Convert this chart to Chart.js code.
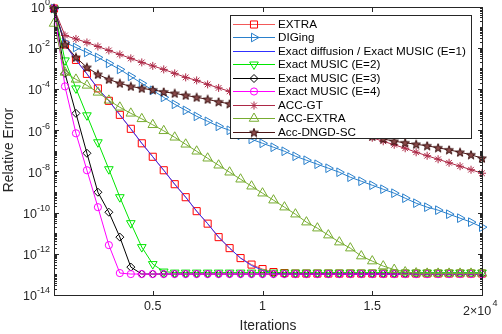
<!DOCTYPE html>
<html>
<head>
<meta charset="utf-8">
<script src="https://cdn.jsdelivr.net/npm/chart.js@4.4.1/dist/chart.umd.min.js"></script>
<style>
html, body { margin: 0; padding: 0; background: #fff; }
#wrap { width: 502px; height: 334px; }
</style>
</head>
<body>
<div id="wrap"><canvas id="errChart" width="502" height="334"></canvas></div>
<script>
// ===========================
// DATA
// ===========================

// Iteration where each marker sits
const iterations = [500, 1000, 1500, 2000, 2500, 3000, 3500, 4000, 4500, 5000,
    5500, 6000, 6500, 7000, 7500, 8000, 8500, 9000, 9500, 10000,
    10500, 11000, 11500, 12000, 12500, 13000, 13500, 14000, 14500, 15000,
    15500, 16000, 16500, 17000, 17500, 18000, 18500, 19000, 19500, 20000];

// Relative error of each method
const extra = [0.80, 1.44e-2, 2.56e-3, 5.37e-4, 1.06e-4, 2.64e-5, 5.53e-6, 1.16e-6, 2.30e-7, 5.1e-8,
    1.13e-8, 2.38e-9, 5.57e-10, 1.17e-10, 2.9e-11, 6.43e-12, 1.88e-12, 6.18e-13, 2.99e-13, 1.81e-13,
    1.30e-13, 1.16e-13, 1.10e-13, 1.10e-13, 1.10e-13, 1.10e-13, 1.10e-13, 1.10e-13, 1.10e-13, 1.10e-13,
    1.10e-13, 1.10e-13, 1.10e-13, 1.10e-13, 1.10e-13, 1.10e-13, 1.10e-13, 1.10e-13, 1.10e-13, 1.10e-13];

const diging = [0.80, 1.80e-2, 1.03e-2, 5.90e-3, 3.38e-3, 1.73e-3, 8.87e-4, 4.06e-4, 1.86e-4, 8.51e-5,
    3.90e-5, 1.79e-5, 9.14e-6, 4.69e-6, 2.68e-6, 1.53e-6, 9.82e-7, 5.62e-7, 3.60e-7, 2.30e-7,
    1.48e-7, 9.44e-8, 5.41e-8, 3.46e-8, 2.21e-8, 1.42e-8, 9.06e-9, 5.19e-9, 3.32e-9, 2.12e-9,
    1.36e-9, 8.71e-10, 4.99e-10, 2.85e-10, 1.83e-10, 1.31e-10, 8.36e-11, 5.36e-11, 3.43e-11, 1.96e-11];

const exactE1 = [0.80, 1.44e-2, 2.56e-3, 5.37e-4, 1.06e-4, 2.64e-5, 5.53e-6, 1.16e-6, 2.30e-7, 5.1e-8,
    1.13e-8, 2.38e-9, 5.57e-10, 1.17e-10, 2.9e-11, 6.43e-12, 1.88e-12, 6.18e-13, 2.7e-13, 1.6e-13,
    1.15e-13, 1.05e-13, 1.04e-13, 1.04e-13, 1.04e-13, 1.04e-13, 1.04e-13, 1.04e-13, 1.04e-13, 1.04e-13,
    1.04e-13, 1.04e-13, 1.04e-13, 1.04e-13, 1.04e-13, 1.04e-13, 1.04e-13, 1.04e-13, 1.04e-13, 1.04e-13];

const exactE2 = [0.80, 2.42e-3, 1.06e-4, 5.24e-6, 2.58e-7, 1.27e-8, 5.57e-10, 3.06e-11, 2.11e-12, 3.16e-13,
    1.37e-13, 1.22e-13, 1.22e-13, 1.22e-13, 1.22e-13, 1.22e-13, 1.22e-13, 1.22e-13, 1.22e-13, 1.22e-13,
    1.22e-13, 1.22e-13, 1.22e-13, 1.22e-13, 1.22e-13, 1.22e-13, 1.22e-13, 1.22e-13, 1.22e-13, 1.22e-13,
    1.22e-13, 1.22e-13, 1.22e-13, 1.22e-13, 1.22e-13, 1.22e-13, 1.22e-13, 1.22e-13, 1.22e-13, 1.22e-13];

const exactE3 = [0.80, 5.68e-4, 6.55e-6, 7.55e-8, 9.73e-10, 1.04e-10, 6.43e-12, 2.26e-13, 1.04e-13, 1.04e-13,
    1.04e-13, 1.04e-13, 1.04e-13, 1.04e-13, 1.04e-13, 1.04e-13, 1.04e-13, 1.04e-13, 1.04e-13, 1.04e-13,
    1.04e-13, 1.04e-13, 1.04e-13, 1.04e-13, 1.04e-13, 1.04e-13, 1.04e-13, 1.04e-13, 1.04e-13, 1.04e-13,
    1.04e-13, 1.04e-13, 1.04e-13, 1.04e-13, 1.04e-13, 1.04e-13, 1.04e-13, 1.04e-13, 1.04e-13, 1.04e-13];

const exactE4 = [0.80, 1.33e-4, 7.03e-7, 1.13e-8, 1.83e-10, 2.63e-12, 1.16e-13, 1.04e-13, 1.04e-13, 1.04e-13,
    1.04e-13, 1.04e-13, 1.04e-13, 1.04e-13, 1.04e-13, 1.04e-13, 1.04e-13, 1.04e-13, 1.04e-13, 1.04e-13,
    1.04e-13, 1.04e-13, 1.04e-13, 1.04e-13, 1.04e-13, 1.04e-13, 1.04e-13, 1.04e-13, 1.04e-13, 1.04e-13,
    1.04e-13, 1.04e-13, 1.04e-13, 1.04e-13, 1.04e-13, 1.04e-13, 1.04e-13, 1.04e-13, 1.04e-13, 1.04e-13];

const accGT = [0.80, 3.94e-2, 2.66e-2, 1.80e-2, 1.15e-2, 7.38e-3, 4.72e-3, 3.03e-3, 1.94e-3, 1.31e-3,
    8.87e-4, 5.68e-4, 3.63e-4, 2.60e-4, 1.66e-4, 1.12e-4, 7.62e-5, 5.15e-5, 3.49e-5, 2.36e-5,
    1.60e-5, 1.08e-5, 7.31e-6, 4.69e-6, 3.17e-6, 2.14e-6, 1.37e-6, 9.29e-7, 6.28e-7, 4.26e-7,
    2.88e-7, 1.95e-7, 1.32e-7, 8.43e-8, 5.71e-8, 3.86e-8, 2.61e-8, 1.77e-8, 1.20e-8, 8.11e-9];

const accExtra = [0.150, 6.34e-4, 2.90e-4, 1.49e-4, 6.81e-5, 2.79e-5, 1.28e-5, 6.55e-6, 3.54e-6, 1.82e-6,
    9.29e-7, 4.50e-7, 2.06e-7, 9.44e-8, 4.33e-8, 1.98e-8, 9.06e-9, 4.15e-9, 1.90e-9, 8.71e-10,
    3.99e-10, 1.83e-10, 8.36e-11, 3.43e-11, 1.75e-11, 8.04e-12, 3.68e-12, 1.88e-12, 7.73e-13, 4.42e-13,
    2.53e-13, 1.71e-13, 1.30e-13, 1.16e-13, 1.12e-13, 1.12e-13, 1.12e-13, 1.12e-13, 1.12e-13, 1.12e-13];

const accDngd = [0.80, 1.44e-2, 3.38e-3, 1.11e-3, 5.07e-4, 2.90e-4, 1.86e-4, 1.33e-4, 1.06e-4, 9.0e-5,
    7.19e-5, 6.10e-5, 4.88e-5, 3.90e-5, 3.12e-5, 2.36e-5, 1.89e-5, 1.43e-5, 1.08e-5, 8.18e-6,
    6.19e-6, 4.69e-6, 3.54e-6, 2.68e-6, 2.03e-6, 1.53e-6, 1.16e-6, 8.79e-7, 6.65e-7, 5.04e-7,
    3.80e-7, 2.88e-7, 2.44e-7, 2.06e-7, 1.74e-7, 1.39e-7, 1.11e-7, 8.43e-8, 6.38e-8, 4.33e-8];

// Axis ticks
const xTicks = [5000, 10000, 15000, 20000];
const xTickLabels = ["0.5", "1", "1.5"];
const yExponents = [0, -2, -4, -6, -8, -10, -12, -14];

// ===========================
// MARKERS
// ===========================

// Pentagram marker (Chart.js has none)
function makePentagram(stroke, fill){
    const c = document.createElement("canvas");
    c.width = 10; c.height = 10;
    const g = c.getContext("2d");
    g.beginPath();
    for(let k = 0; k < 10; k++){
        const r = k % 2 === 0 ? 4.6 : 1.9;
        const a = -Math.PI / 2 + k * Math.PI / 5;
        const px = 5 + r * Math.cos(a), py = 5.4 + r * Math.sin(a);
        if(k === 0) g.moveTo(px, py); else g.lineTo(px, py);
    }
    g.closePath();
    g.fillStyle = fill;
    g.fill();
    g.strokeStyle = stroke;
    g.lineWidth = 1;
    g.stroke();
    return c;
}

const pentagram = makePentagram("#3a0f0f", "#8a4a4a");

function series(label, values, color, markerColor, style, radius, rotation){
    return {
        label: label,
        data: iterations.map((it, i) => ({x: it, y: values[i]})),
        borderColor: color,
        borderWidth: 1,
        pointStyle: style,
        pointRadius: radius,
        pointRotation: rotation || 0,
        pointBorderColor: markerColor,
        pointBackgroundColor: "rgba(0,0,0,0)",
        pointBorderWidth: 1,
        tension: 0,
        clip: false
    };
}

const datasets = [
    series("EXTRA", extra, "rgba(240,60,60,0.85)", "#ff0000", "rect", 5),
    series("DIGing", diging, "#2a80cc", "#2a80cc", "triangle", 5, 90),
    series("Exact diffusion / Exact MUSIC (E=1)", exactE1, "#3030ff", "#3030ff", "circle", 0),
    series("Exact MUSIC (E=2)", exactE2, "#00e600", "#00e600", "triangle", 5, 180),
    series("Exact MUSIC (E=3)", exactE3, "#000000", "#000000", "rectRot", 4),
    series("Exact MUSIC (E=4)", exactE4, "#ff00ff", "#ff00ff", "circle", 3.6),
    series("ACC-GT", accGT, "#ad2846", "#ad2846", "star", 4),
    series("ACC-EXTRA", accExtra, "#77ac30", "#77ac30", "triangle", 5.5),
    series("Acc-DNGD-SC", accDngd, "#4a1414", "#4a1414", pentagram, 5)
];

// later series are drawn on top, like MATLAB
datasets.forEach((d, i) => { d.order = datasets.length - i; });

// ===========================
// PLUGINS
// ===========================

const textColor = "#262626";
const fontName = '"Liberation Sans", Arial, sans-serif';

// Box, inward ticks and tick labels
const axesBox = {
    id: "axesBox",
    afterDatasetsDraw(chart){
        const ctx = chart.ctx;
        const a = chart.chartArea;
        const xs = chart.scales.x, ys = chart.scales.y;
        const L = Math.round(a.left) + 0.5, R = Math.round(a.right) + 0.5;
        const T = Math.round(a.top) + 0.5, B = Math.round(a.bottom) + 0.5;

        ctx.save();
        ctx.strokeStyle = textColor;
        ctx.lineWidth = 1;
        ctx.strokeRect(L, T, R - L, B - T);

        ctx.beginPath();
        // x ticks, bottom and top
        xTicks.forEach(v => {
            const px = Math.round(xs.getPixelForValue(v)) + 0.5;
            ctx.moveTo(px, B); ctx.lineTo(px, B - 4.5);
            ctx.moveTo(px, T); ctx.lineTo(px, T + 4.5);
        });
        // y ticks: majors at labelled decades, minors elsewhere
        for(let e = -14; e <= 0; e++){
            for(let m = 1; m <= 9; m++){
                if(e === 0 && m > 1) break;
                const py = Math.round(ys.getPixelForValue(m * Math.pow(10, e))) + 0.5;
                const len = (m === 1 && e % 2 === 0) ? 4.5 : 2.5;
                ctx.moveTo(L, py); ctx.lineTo(L + len, py);
                ctx.moveTo(R, py); ctx.lineTo(R - len, py);
            }
        }
        ctx.stroke();

        ctx.fillStyle = textColor;
        ctx.textBaseline = "middle";

        // y labels 10^k
        yExponents.forEach(e => {
            const py = ys.getPixelForValue(Math.pow(10, e));
            const sup = e === 0 ? "0" : "-" + Math.abs(e);
            ctx.font = "9px " + fontName;
            const sw = ctx.measureText(sup).width;
            ctx.textAlign = "left";
            ctx.fillText(sup, 50 - sw, py - 4);
            ctx.font = "12.5px " + fontName;
            ctx.textAlign = "right";
            ctx.fillText("10", 50 - sw, py + 2);
        });

        // x labels
        ctx.font = "12.5px " + fontName;
        ctx.textAlign = "center";
        xTickLabels.forEach((t, i) => {
            ctx.fillText(t, xs.getPixelForValue(xTicks[i]), 307);
        });
        ctx.textAlign = "left";
        ctx.fillText("2\u00d710", 463, 311.5);
        ctx.font = "9px " + fontName;
        ctx.fillText("4", 492.5, 304);

        // axis titles
        ctx.font = "13.8px " + fontName;
        ctx.textAlign = "center";
        ctx.fillText("Iterations", 268, 326);
        ctx.translate(9, 150);
        ctx.rotate(-Math.PI / 2);
        ctx.fillText("Relative Error", 0, 0);
        ctx.restore();
    }
};

// Legend inside the plot, top right
const insideLegend = {
    id: "insideLegend",
    afterDatasetsDraw(chart){
        const ctx = chart.ctx;
        ctx.save();
        ctx.fillStyle = "#ffffff";
        ctx.fillRect(230.5, 15.5, 241, 123);
        ctx.strokeStyle = textColor;
        ctx.lineWidth = 1;
        ctx.strokeRect(230.5, 15.5, 241, 123);

        chart.data.datasets.forEach((ds, i) => {
            const y = Math.round(24 + i * 13.46) + 0.5;
            ctx.strokeStyle = ds.borderColor;
            ctx.lineWidth = 1;
            ctx.beginPath();
            ctx.moveTo(233, y);
            ctx.lineTo(275, y);
            ctx.stroke();

            if(ds.pointRadius > 0){
                ctx.strokeStyle = ds.pointBorderColor;
                ctx.fillStyle = ds.pointBackgroundColor;
                Chart.helpers.drawPoint(ctx, {
                    pointStyle: ds.pointStyle,
                    rotation: ds.pointRotation,
                    radius: ds.pointRadius,
                    borderWidth: 1
                }, 254, y);
            }

            ctx.fillStyle = "#000000";
            ctx.font = "11.7px " + fontName;
            ctx.textAlign = "left";
            ctx.textBaseline = "middle";
            ctx.fillText(ds.label, 278, y + 0.5);
        });
        ctx.restore();
    }
};

// ===========================
// CHART
// ===========================

new Chart(document.getElementById("errChart"), {

    type: "line",

    data: { datasets: datasets },

    options: {
        responsive: false,
        animation: false,
        events: [],
        layout: { padding: { top: 6, right: 20, left: 0, bottom: 0 } },
        plugins: {
            legend: { display: false },
            tooltip: { enabled: false }
        },
        scales: {
            x: {
                type: "linear",
                min: 500,
                max: 20000,
                ticks: { display: false },
                grid: { display: false },
                border: { display: false },
                afterFit(s){ s.height = 39; }
            },
            y: {
                type: "logarithmic",
                min: 1e-14,
                max: 1,
                ticks: { display: false },
                grid: { display: false },
                border: { display: false },
                afterFit(s){ s.width = 54; }
            }
        }
    },

    plugins: [axesBox, insideLegend]

});
</script>
</body>
</html>
